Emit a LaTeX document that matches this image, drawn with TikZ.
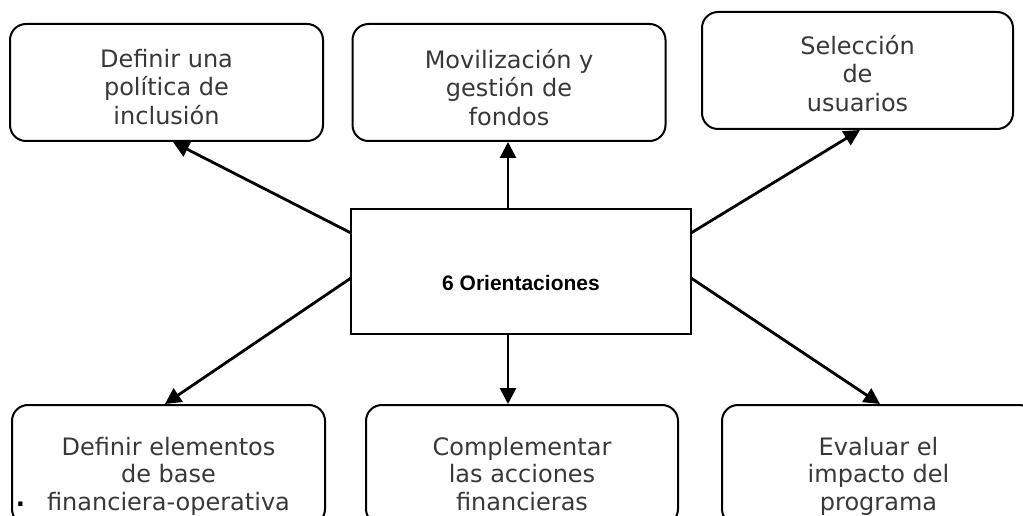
\documentclass[tikz,border=0pt]{standalone}
\usepackage{fontspec}
\setmainfont{DejaVu Sans}
\newfontfamily\headfont{Liberation Sans}
\usetikzlibrary{arrows.meta}

\tikzset{
  goalbox/.style={draw, line width=2pt, rounded corners=16pt, fill=white,
    minimum width=313pt, minimum height=117pt, inner sep=0pt},
  goaltext/.style={anchor=north, inner sep=0pt, align=center, text=black!78,
    font=\fontsize{24}{28.5}\selectfont},
  corebox/.style={draw, line width=2.2pt, fill=white, minimum width=340pt,
    minimum height=125pt, inner sep=0pt},
  link/.style={line width=2.8pt, -{Triangle[length=16pt,width=16pt]}},
}

\begin{document}
\begin{tikzpicture}[x=1pt, y=-1pt]
  \useasboundingbox (0,0) rectangle (1023,516);
  \clip (0,0) rectangle (1023,516);
  \fill[white] (0,0) rectangle (1023,516);
  % centre
  \node[corebox] (core) at (521,271.5) {};
  \node[font=\headfont\bfseries\fontsize{21}{25}\selectfont, anchor=base] (coretitle)
    at (521,290) {6 Orientaciones};
  % top row
  \node[goalbox] (tl) at (166.5,82.5) {};
  \node[goaltext] (tltext) at ([yshift=-26pt]tl.north) {Definir una\\política de\\inclusión};
  \node[goalbox] (tm) at (509,82.5) {};
  \node[goaltext] (tmtext) at ([yshift=-26pt]tm.north) {Movilización y\\gestión de\\fondos};
  \node[goalbox, minimum width=311pt] (tr) at (857.5,70.5) {};
  \node[goaltext] (trtext) at ([yshift=-24pt]tr.north) {Selección\\de\\usuarios};
  % bottom row
  \node[goalbox, minimum height=120pt] (bl) at (168.5,465) {};
  \node[goaltext, font=\fontsize{24}{27.5}\selectfont] (bltext) at ([yshift=-33pt]bl.north)
    {Definir elementos\\de base\\financiera-operativa};
  \node[goalbox, minimum width=312pt, minimum height=120pt] (bm) at (522,465) {};
  \node[goaltext, font=\fontsize{24}{27.5}\selectfont] (bmtext) at ([yshift=-33pt]bm.north)
    {Complementar\\las acciones\\financieras};
  \node[goalbox, minimum height=120pt] (br) at (878.5,465) {};
  \node[goaltext, font=\fontsize{24}{27.5}\selectfont] (brtext) at ([yshift=-33pt]br.north)
    {Evaluar el\\impacto del\\programa};
  \node[font=\bfseries\fontsize{24}{28}\selectfont, anchor=base, inner sep=0pt] (dot) at (20.5,506) {.};
  % connectors
  \coordinate (cnw) at (351,233);
  \coordinate (cne) at (691,233);
  \coordinate (csw) at (351,278);
  \coordinate (cse) at (691,278);
  \draw[link] (cnw) -- ([xshift=6.5pt]tl.south);
  \draw[link] ([xshift=-13pt]core.north) -- ([xshift=-1pt]tm.south);
  \draw[link] (cne) -- ([xshift=2.5pt]tr.south);
  \draw[link] (csw) -- ([xshift=-3.5pt]bl.north);
  \draw[link] ([xshift=-13pt]core.south) -- ([xshift=-14pt]bm.north);
  \draw[link] (cse) -- ([xshift=1.5pt]br.north);
\end{tikzpicture}
\end{document}
